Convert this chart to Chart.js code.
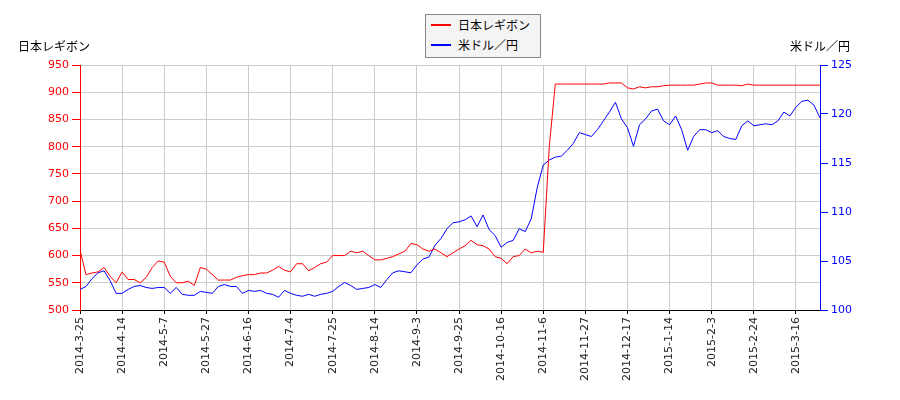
<!DOCTYPE html><html><head><meta charset="utf-8">
<script src="https://cdn.jsdelivr.net/npm/chart.js@4"></script>
<style>body{margin:0;background:#fff;font-family:"Noto Sans CJK JP","DejaVu Sans";}
#w{position:relative;width:900px;height:400px}
.t{position:absolute;font-size:12px;color:#000}
#lg{position:absolute;left:425px;top:14px;width:114px;height:42px;border:1px solid #888;background:#f4f4f4;font-size:12px}
#lg div{height:20px;line-height:20px;padding-left:32px;position:relative}
#lg span{position:absolute;left:5px;top:9px;width:20px;height:2px}
</style></head><body><div id="w"><canvas id="c" width="900" height="400"></canvas>
<div class="t" style="left:18px;top:37px">日本レギボン</div>
<div class="t" style="left:790px;top:37px">米ドル／円</div>
<div id="lg"><div><span style="background:red"></span>日本レギボン</div><div><span style="background:blue"></span>米ドル／円</div></div></div>
<script>
const tickLabels=["2014-3-25","2014-4-14","2014-5-7","2014-5-27","2014-6-16","2014-7-4","2014-7-25","2014-8-14","2014-9-3","2014-9-25","2014-10-16","2014-11-6","2014-11-27","2014-12-17","2015-1-14","2015-2-3","2015-2-24","2015-3-16"];
const stockValues=[610,565,568,570,578,562,550,570,556,556,550,560,578,590,588,562,550,550,553,545,578,575,565,555,555,555,560,563,565,565,568,568,573,580,573,570,585,585,572,578,585,588,600,600,600,608,605,608,600,592,592,595,598,603,608,622,620,612,608,612,605,598,605,612,618,628,620,618,612,598,595,585,598,600,612,605,608,606,800,
915,915,915,915,915,915,915,915,915,917,917,917,
908,906,910,908,910,910,912,913,913,913,913,913,915,917,917,913,913,913,913,912,915,913,913,913,913,913,913,913,913,913,913,913,913];
const usdjpyValues=[102.1,102.4,103.2,103.8,104.0,103.0,101.7,101.7,102.1,102.4,102.5,102.3,102.2,102.3,102.3,101.7,102.3,101.6,101.5,101.5,101.9,101.8,101.7,102.4,102.6,102.4,102.4,101.7,102.0,101.9,102.0,101.7,101.6,101.3,102.0,101.7,101.5,101.4,101.6,101.4,101.6,101.7,101.9,102.4,102.8,102.5,102.1,102.2,102.3,102.6,102.3,103.1,103.8,104.0,103.9,103.8,104.6,105.2,105.4,106.6,107.3,108.3,108.9,109.0,109.2,109.6,108.5,109.7,108.2,107.6,106.4,106.9,107.1,108.3,108.0,109.3,112.5,114.8,115.3,115.6,115.7,116.3,117.0,118.1,117.9,117.7,118.4,119.3,120.2,121.2,119.5,118.6,116.7,118.9,119.5,120.3,120.5,119.3,118.9,119.8,118.4,116.3,117.7,118.4,118.4,118.1,118.3,117.7,117.5,117.4,118.8,119.3,118.8,118.9,119.0,118.9,119.3,120.2,119.8,120.7,121.3,121.4,120.9,119.6];
const labels=stockValues.map((v,i)=>i%7===0&&tickLabels[i/7]?tickLabels[i/7]:'');
new Chart(document.getElementById('c'),{type:'line',
data:{labels,datasets:[
{data:stockValues,borderColor:'red',borderWidth:1,pointRadius:0,yAxisID:'y',tension:0},
{data:usdjpyValues,borderColor:'blue',borderWidth:1,pointRadius:0,yAxisID:'y1',tension:0}]},
options:{responsive:false,animation:false,layout:{padding:{top:65,left:0,right:0,bottom:0}},
plugins:{legend:{display:false},tooltip:{enabled:false}},
scales:{
x:{offset:false,ticks:{autoSkip:false,maxRotation:90,minRotation:90,color:'#222',font:{size:11,family:'DejaVu Sans'},callback:(v,i)=>labels[i]},
grid:{color:c=>labels[c.index]?'#ccc':'rgba(0,0,0,0)',tickColor:c=>labels[c.index]?'#000':'rgba(0,0,0,0)',tickLength:4},border:{color:'#000'},afterFit:a=>{a.height=90}},
y:{position:'left',min:500,max:950,ticks:{stepSize:50,color:'red',font:{size:11,family:'DejaVu Sans'}},grid:{color:'#ccc',tickColor:'red'},border:{color:'red'},afterFit:a=>{a.width=80}},
y1:{position:'right',min:100,max:125,ticks:{stepSize:5,color:'blue',font:{size:11,family:'DejaVu Sans'}},grid:{drawOnChartArea:false,tickColor:'blue'},border:{color:'blue'},afterFit:a=>{a.width=80}}
}}});
</script></body></html>
